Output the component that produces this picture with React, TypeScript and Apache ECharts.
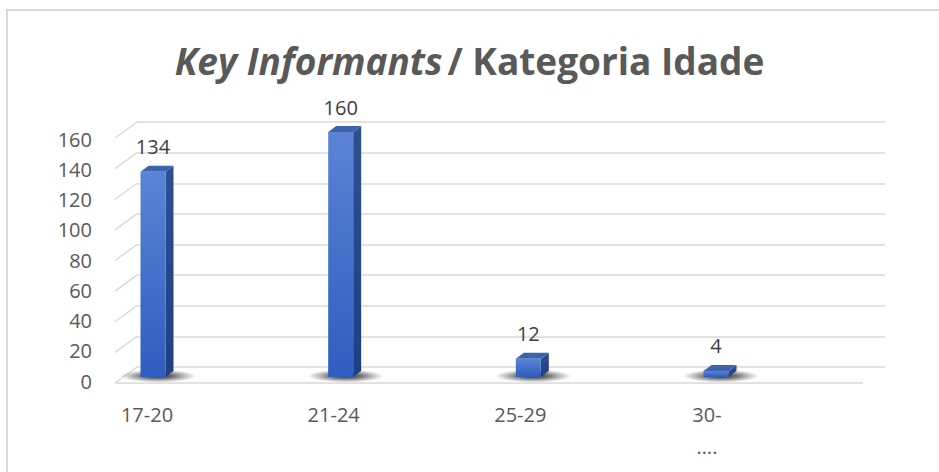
import React, { useEffect, useRef } from "react";
import * as echarts from "echarts";

const categories = ["17-20", "21-24", "25-29", "30-\n…."];
const values = [134, 160, 12, 4];
const yTicks = [0, 20, 40, 60, 80, 100, 120, 140, 160];
const titleItalic = "Key Informants";
const titleRest = "/ Kategoria Idade";

const FONT = "'Open Sans', 'Noto Sans', sans-serif";
const GRID_COLOR = "#d9d9d9";
const DEPTH_X = 22;
const DEPTH_Y = 16;

export default function App() {
  const ref = useRef<HTMLDivElement>(null);
  useEffect(() => {
    document.body.style.margin = "0";
    const chart = echarts.init(ref.current!, null, { renderer: "svg" });
    const option: any = {
      animation: false,
      backgroundColor: "#ffffff",
      title: {
        text: `{i|${titleItalic}} {b|${titleRest}}`,
        left: "center",
        top: 37,
        textStyle: {
          rich: {
            i: { fontStyle: "italic", fontWeight: "bold", fontSize: 37, color: "#595959", fontFamily: FONT },
            b: { fontWeight: "bold", fontSize: 37, color: "#595959", fontFamily: FONT },
          },
        },
      },
      graphic: [
        {
          type: "rect",
          shape: { x: 7, y: 10, width: 1000, height: 1000 },
          style: { fill: "none", stroke: GRID_COLOR, lineWidth: 2 },
          silent: true,
        },
      ],
      grid: [
        { left: 137, right: 54, top: 122, bottom: 105 },
        { left: 100, right: 54, top: 139, bottom: 91 },
        { left: 147, right: 232, top: 132, bottom: 95 },
      ],
      xAxis: [
        { gridIndex: 0, type: "value", min: 0, max: 1, show: false },
        { gridIndex: 1, type: "category", data: categories, show: false },
        {
          gridIndex: 2,
          type: "category",
          data: categories,
          boundaryGap: false,
          axisLine: { show: false },
          axisTick: { show: false },
          splitLine: { show: false },
          axisLabel: {
            margin: 21,
            fontSize: 20,
            lineHeight: 32,
            color: "#595959",
            fontFamily: FONT,
          },
        },
      ],
      yAxis: [
        {
          gridIndex: 0,
          type: "value",
          min: 0,
          max: 160,
          interval: 20,
          axisLabel: { show: false },
          axisLine: { show: false },
          axisTick: { show: false },
          splitLine: { show: true, lineStyle: { color: GRID_COLOR, width: 1.5 } },
        },
        {
          gridIndex: 1,
          type: "value",
          min: 0,
          max: 160,
          interval: 20,
          axisLine: { show: false },
          axisTick: { show: false },
          splitLine: { show: false },
          axisLabel: { margin: 8, fontSize: 20, color: "#595959", fontFamily: FONT },
        },
        { gridIndex: 2, type: "value", min: 0, max: 160, show: false },
      ],
      series: [
        {
          type: "custom",
          xAxisIndex: 0,
          yAxisIndex: 0,
          silent: true,
          data: yTicks.map((t) => [0, t]),
          renderItem: (params: any, api: any) => {
            const v = api.value(1);
            const [bx, by] = api.coord([0, v]);
            const children: any[] = [
              {
                type: "line",
                shape: { x1: bx, y1: by, x2: bx - DEPTH_X, y2: by + DEPTH_Y },
                style: { stroke: GRID_COLOR, lineWidth: 1.5 },
              },
            ];
            if (v === 0) {
              const [rx] = api.coord([1, 0]);
              children.push({
                type: "line",
                shape: { x1: bx - DEPTH_X, y1: by + DEPTH_Y, x2: rx - DEPTH_X, y2: by + DEPTH_Y },
                style: { stroke: GRID_COLOR, lineWidth: 1.5 },
              });
            }
            return { type: "group", children };
          },
        },
        {
          type: "custom",
          xAxisIndex: 2,
          yAxisIndex: 2,
          data: values.map((v, i) => [i, v]),
          renderItem: (params: any, api: any) => {
            const idx = api.value(0);
            const v = api.value(1);
            const [px, yTop] = api.coord([idx, v]);
            const [, yBot] = api.coord([idx, 0]);
            const c = px + 6 + idx * 1;
            const hw = 12.5;
            const dx = 8;
            const dy = 6;
            const shadowGrad = new echarts.graphic.RadialGradient(0.5, 0.5, 0.5, [
              { offset: 0, color: "rgba(20,20,20,0.95)" },
              { offset: 0.45, color: "rgba(40,40,40,0.6)" },
              { offset: 1, color: "rgba(60,60,60,0)" },
            ]);
            const frontGrad = new echarts.graphic.LinearGradient(0, 0, 0, 1, [
              { offset: 0, color: "#5b84d5" },
              { offset: 1, color: "#2f5dc0" },
            ]);
            const sideGrad = new echarts.graphic.LinearGradient(0, 0, 0, 1, [
              { offset: 0, color: "#2f4f93" },
              { offset: 1, color: "#1f3f82" },
            ]);
            return {
              type: "group",
              children: [
                {
                  type: "ellipse",
                  shape: { cx: c + 5, cy: yBot - 1, rx: 38, ry: 6.5 },
                  style: { fill: shadowGrad },
                },
                {
                  type: "polygon",
                  shape: {
                    points: [
                      [c + hw, yTop],
                      [c + hw + dx, yTop - dy],
                      [c + hw + dx, yBot - dy],
                      [c + hw, yBot],
                    ],
                  },
                  style: { fill: sideGrad },
                },
                {
                  type: "polygon",
                  shape: {
                    points: [
                      [c - hw, yTop],
                      [c - hw + dx, yTop - dy],
                      [c + hw + dx, yTop - dy],
                      [c + hw, yTop],
                    ],
                  },
                  style: { fill: "#3e62ab" },
                },
                {
                  type: "rect",
                  shape: { x: c - hw, y: yTop, width: hw * 2, height: yBot - yTop },
                  style: { fill: frontGrad },
                },
                {
                  type: "text",
                  x: c,
                  y: yTop - 25,
                  style: {
                    text: String(v),
                    fontSize: 20,
                    fontFamily: FONT,
                    fill: "#404040",
                    align: "center",
                    verticalAlign: "middle",
                  },
                },
              ],
            };
          },
        },
      ],
    };
    chart.setOption(option);
    return () => chart.dispose();
  }, []);
  return <div ref={ref} style={{ width: 939, height: 472 }} />;
}
